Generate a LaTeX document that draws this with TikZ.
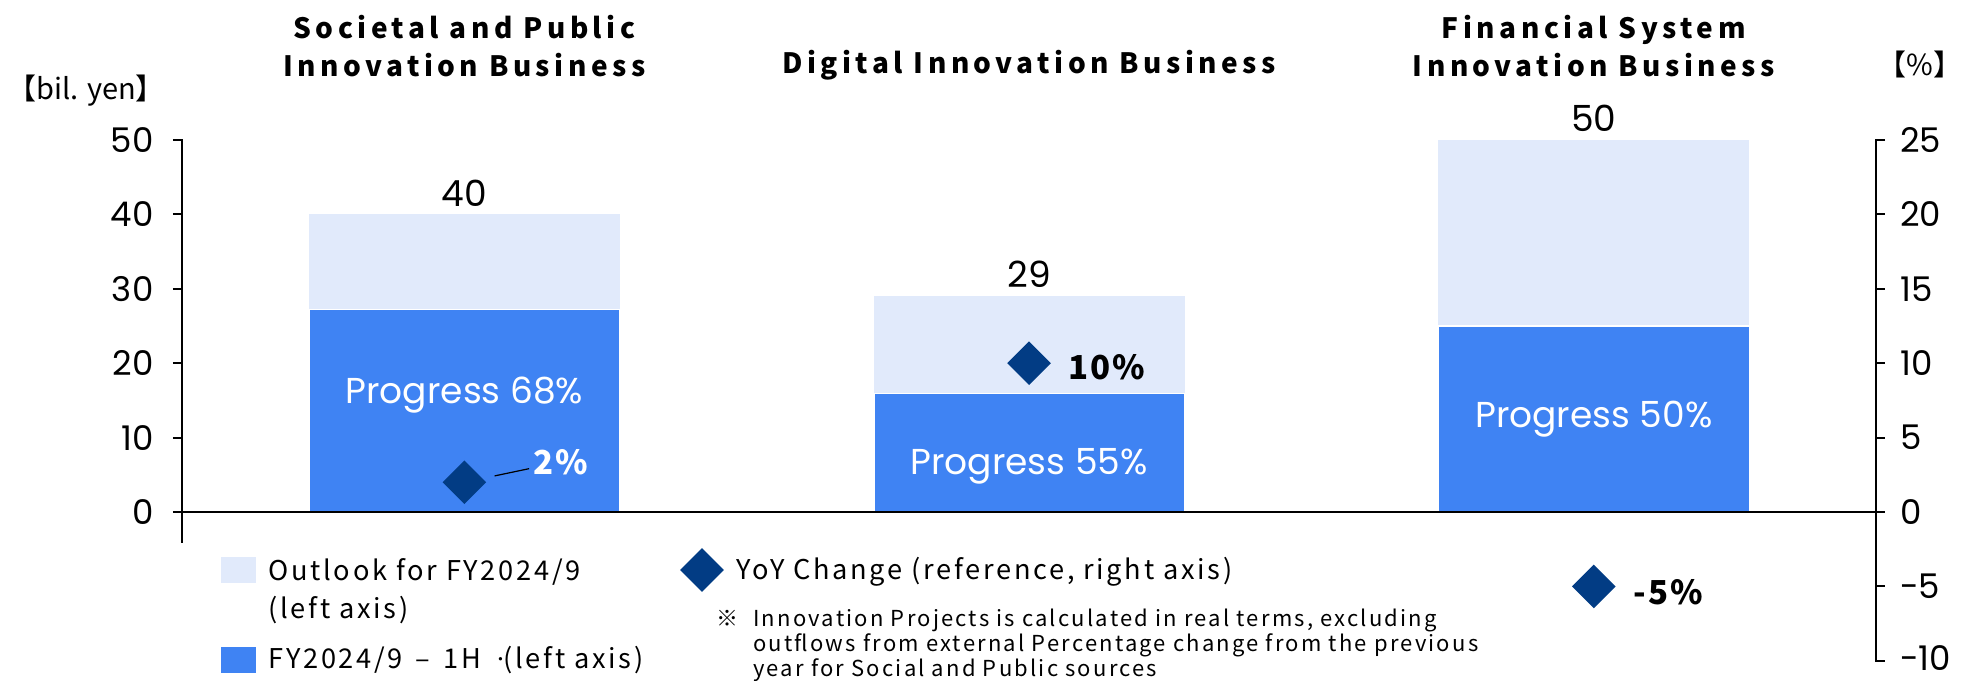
\documentclass[tikz,border=0pt]{standalone}
\usepackage{fontspec}
\setmainfont{Noto Sans CJK JP}
\newfontfamily\headfont{Noto Sans CJK JP}[LetterSpace=16]
\newfontfamily\medfont{Noto Sans CJK JP}[LetterSpace=6]
\newfontfamily\legfont{Noto Sans CJK JP}[LetterSpace=10]
\newfontfamily\numfont{Poppins}
\usetikzlibrary{shapes.geometric}
\definecolor{outlookblue}{HTML}{E1EAFB}
\definecolor{halfblue}{HTML}{3F83F3}
\definecolor{yoynavy}{HTML}{023C84}
\tikzset{
  outlook/.style={fill=outlookblue},
  firsthalf/.style={fill=halfblue,draw=white,line width=0.8pt},
  yoy/.style={diamond,fill=yoynavy,inner sep=0pt,minimum width=22pt,minimum height=22pt},
  title/.style={font=\headfont\bfseries\fontsize{14}{18.75}\selectfont,align=center,inner sep=0pt},
  unitlbl/.style={font=\fontsize{14.5}{16}\selectfont,inner sep=0pt},
  ltick/.style={font=\numfont\fontsize{17}{20}\selectfont,anchor=east,inner sep=0pt},
  rtick/.style={font=\numfont\fontsize{17}{20}\selectfont,anchor=west,inner sep=0pt},
  total/.style={font=\numfont\fontsize{18}{20}\selectfont,inner sep=0pt},
  progress/.style={font=\numfont\fontsize{18}{20}\selectfont,text=white,anchor=base,inner sep=0pt},
  yoylbl/.style={font=\medfont\bfseries\fontsize{16.5}{20}\selectfont,anchor=west,inner sep=0pt},
  legbox/.style={inner sep=0pt,minimum width=17.5pt,minimum height=13pt},
  legtext/.style={font=\legfont\fontsize{13.6}{19}\selectfont,align=left,anchor=west,inner sep=0pt},
  notetext/.style={font=\legfont\fontsize{11}{12.5}\selectfont,align=left,anchor=west,inner sep=0pt}
}
\begin{document}
\begin{tikzpicture}[x=282.35pt,y=3.72pt,line cap=butt,line join=miter]
\useasboundingbox (-0.3223,-22.58) rectangle (3.1521,68.82);
% bars
\fill[outlook] (0.2249,27.2) rectangle (0.7756,40);
\fill[outlook] (1.2249,15.95) rectangle (1.7756,29);
\fill[outlook] (2.2249,25) rectangle (2.7756,50);
\filldraw[firsthalf] (0.2249,0) rectangle (0.7756,27.2);
\filldraw[firsthalf] (1.2249,0) rectangle (1.7756,15.95);
\filldraw[firsthalf] (2.2249,0) rectangle (2.7756,25);
% axes
\draw[line width=1pt]
  (-0.016,50) -- (0,50) -- (0,-4.17)
  (-0.016,40) -- (0,40)
  (-0.016,30) -- (0,30)
  (-0.016,20) -- (0,20)
  (-0.016,10) -- (0,10)
  (-0.016,0) -- (3,0)
  (3.016,50) -- (3,50) -- (3,-20) -- (3.016,-20)
  (3,40) -- (3.016,40)
  (3,30) -- (3.016,30)
  (3,20) -- (3.016,20)
  (3,10) -- (3.016,10)
  (3,0) -- (3.016,0)
  (3,-10) -- (3.016,-10);
\node[ltick] (l50) at (-0.05,50) {50};
\node[ltick] (l40) at (-0.05,40) {40};
\node[ltick] (l30) at (-0.05,30) {30};
\node[ltick] (l20) at (-0.05,20) {20};
\node[ltick] (l10) at (-0.05,10) {10};
\node[ltick] (l0) at (-0.05,0) {0};
\node[rtick] (r25) at (3.042,50) {25};
\node[rtick] (r20) at (3.042,40) {20};
\node[rtick] (r15) at (3.042,30) {15};
\node[rtick] (r10) at (3.042,20) {10};
\node[rtick] (r5) at (3.042,10) {5};
\node[rtick] (r0) at (3.042,0) {0};
\node[rtick] (rm5) at (3.042,-10) {-5};
\node[rtick] (rm10) at (3.042,-19.6) {-10};
\node[unitlbl,anchor=west] (yen) at (-0.31,56.7) {【bil. yen】};
\node[unitlbl] (pct) at (3.078,60.1) {【\%】};
% titles
\node[title] (soc) at (0.5,62.6) {Societal and Public\\Innovation Business};
\node[title] (dig) at (1.5,60.1) {Digital Innovation Business};
\node[title] (fin) at (2.5,62.6) {Financial System\\Innovation Business};
% values
\node[total] (v40) at (0.5,42.9) {40};
\node[total] (v29) at (1.5,31.9) {29};
\node[total] (v50) at (2.5,52.9) {50};
\node[progress] (p68) at (0.5,14.6) {Progress 68\%};
\node[progress] (p55) at (1.5,5.0) {Progress 55\%};
\node[progress] (p50) at (2.5,11.3) {Progress 50\%};
% yoy
\node[yoy] (d2) at (0.5,4) {};
\node[yoy] (d10) at (1.5,20) {};
\node[yoy] (dm5) at (2.5,-10) {};
\node[yoylbl,text=white] (y2) at (0.6216,6.72) {2\%};
\node[yoylbl] (y10) at (1.569,19.49) {10\%};
\node[yoylbl] (ym5) at (2.5695,-10.75) {-5\%};
\draw[line width=0.6pt,shorten <=6pt,shorten >=2pt] (d2) -- (y2);
% legend
\node[legbox,fill=outlookblue] (kout) at (0.1,-7.8) {};
\node[legbox,fill=halfblue] (khalf) at (0.1,-19.9) {};
\node[legtext] (tout) at (0.1523,-10.6) {Outlook for FY2024/9\\(left axis)};
\node[legtext] (thalf) at (0.1523,-19.9) {FY2024/9\hspace{2pt} –\hspace{2pt} 1H\hspace{4pt} {\numfont ·}(left axis)};
\node[yoy] (kyoy) at (0.9208,-7.8) {};
\node[legtext] (tyoy) at (0.981,-8.0) {YoY Change (reference, right axis)};
\node[notetext] (note) at (1.011,-17.9) {\llap{※\hspace{7.5pt}}Innovation Projects is calculated in real terms, excluding\\outflows from external Percentage change from the previous\\year for Social and Public sources};
\end{tikzpicture}
\end{document}
